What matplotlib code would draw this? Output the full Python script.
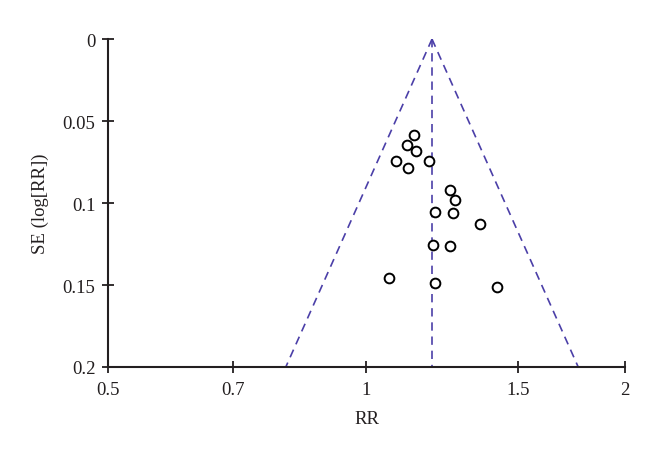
import numpy as np
import matplotlib
matplotlib.use("Agg")
import matplotlib.pyplot as plt

# study estimates
rr = [1.137, 1.114, 1.142, 1.081, 1.117, 1.182, 1.250, 1.267,
      1.202, 1.260, 1.356, 1.196, 1.250, 1.062, 1.202, 1.420]
se = [0.0585, 0.0645, 0.0681, 0.0746, 0.0789, 0.0746, 0.0921, 0.0980,
      0.1055, 0.1061, 0.1128, 0.1255, 0.1259, 0.1460, 0.1490, 0.1511]
pooled_rr = 1.192
se_max = 0.2

x_ticks = [0.5, 0.7, 1, 1.5, 2]
x_labels = ["0.5", "0.7", "1", "1.5", "2"]
y_ticks = [0, 0.05, 0.1, 0.15, 0.2]
y_labels = ["0", "0.05", "0.1", "0.15", "0.2"]

plt.rcParams['font.family'] = ['Liberation Serif', 'DejaVu Serif']

fig = plt.figure(figsize=(6.6, 4.56), dpi=100)
ax = fig.add_axes([0.1636, 0.193, 0.7834, 0.719])

dark = "#231f20"
blue = "#4b3fa8"

# funnel lines (95% limits)
se_line = np.array([0, se_max])
ax.plot(pooled_rr * np.exp(-1.96 * se_line), se_line, color=blue, lw=1.2,
        dashes=(5, 3.5))
ax.plot(pooled_rr * np.exp(1.96 * se_line), se_line, color=blue, lw=1.2,
        dashes=(5, 3.5))
ax.plot([pooled_rr, pooled_rr], se_line, color=blue, lw=1.2, dashes=(5, 3.5))

ax.plot(rr, se, linestyle="none", marker="o", markersize=7,
        markerfacecolor="white", markeredgecolor="black", markeredgewidth=1.4)

ax.set_xscale("log")
ax.set_xlim(0.5, 2)
ax.set_ylim(0.2, 0)
ax.set_xticks(x_ticks)
ax.set_xticklabels(x_labels)
ax.minorticks_off()
ax.set_yticks(y_ticks)
ax.set_yticklabels(y_labels)

for s in ["top", "right"]:
    ax.spines[s].set_visible(False)
for s in ["left", "bottom"]:
    ax.spines[s].set_color(dark)
    ax.spines[s].set_linewidth(1.5)

ax.tick_params(direction="inout", length=8, width=1.3, color=dark,
               labelsize=13.5, labelcolor=dark)
ax.tick_params(axis="x", pad=6)
ax.tick_params(axis="y", pad=5)

ax.set_xlabel("RR", fontsize=13.5, color=dark, labelpad=9)
ax.set_ylabel("SE (log[RR])", fontsize=13.5, color=dark, labelpad=10)

fig.savefig("out.png", dpi=100)
